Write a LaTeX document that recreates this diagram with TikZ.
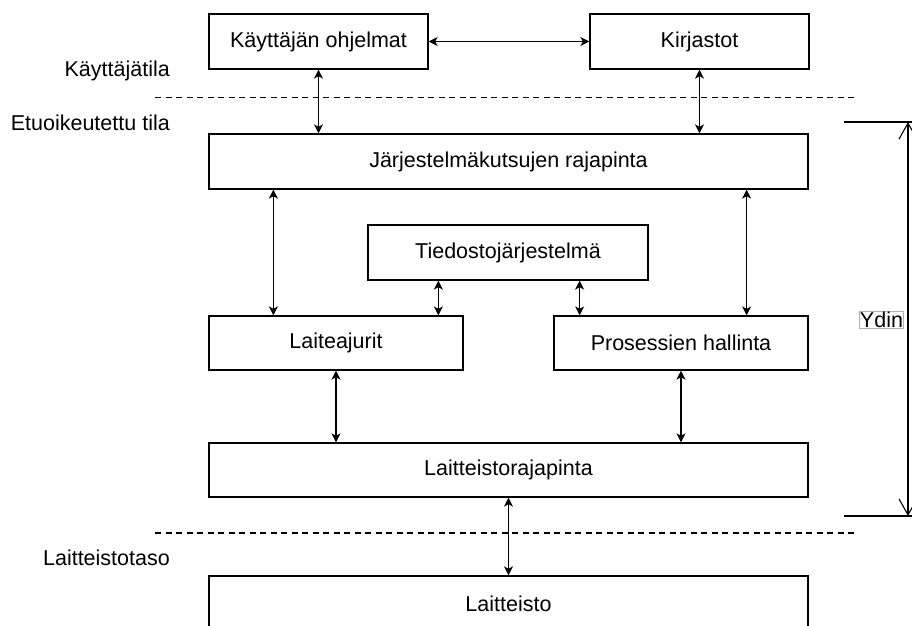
\documentclass[tikz,border=0pt]{standalone}
\usepackage{fontspec}
\setmainfont{Liberation Sans}
\usetikzlibrary{arrows.meta,positioning,calc}

\begin{document}
\begin{tikzpicture}[x=1pt, y=-1pt, >={Stealth[length=9pt,width=9pt,inset=2.5pt]},
  font=\fontsize{21.5}{26}\selectfont,
  box/.style={draw, line width=1.3pt, inner sep=0pt, minimum height=55pt},
  link/.style={<->, line width=1.2pt},
  sep/.style={dash pattern=on 6pt off 4.5pt, line width=1.1pt},
  tag/.style={anchor=east, inner sep=0pt}]
\useasboundingbox (0,0) rectangle (912,625);
\node[box, minimum width=219pt] (prog) at (318.5,41.5) {Käyttäjän ohjelmat};
\node[box, minimum width=219pt] (lib)  at (699.5,41.5) {Kirjastot};
\node[box, minimum width=599pt] (sys)  at (508.5,161.5) {Järjestelmäkutsujen rajapinta};
\node[box, minimum width=280pt] (fs)   at (508,252.5) {Tiedostojärjestelmä};
\node[box, minimum width=254pt, minimum height=54pt] (drv)  at (336,343) {Laiteajurit};
\node[box, minimum width=254pt, minimum height=54pt] (proc) at (681,343) {Prosessien hallinta};
\node[box, minimum width=599pt, minimum height=54pt] (hwif) at (508.5,470) {Laitteistorajapinta};
\node[box, minimum width=599pt] (hw)   at (508.5,603.5) {Laitteisto};
% region labels
\node[tag] (user) at (170,71)  {Käyttäjätila};
\node[tag] (priv) at (170,123) {Etuoikeutettu tila};
\node[tag] (hwl)  at (170,558) {Laitteistotaso};
\draw[sep] (155,97.5) -- (858,97.5);
\draw[sep] (155,533) -- (858,533);
% connectors
\coordinate (sl) at ([xshift=65pt]sys.south west);
\coordinate (sr) at ([xshift=-62pt]sys.south east);
\coordinate (fl) at ([xshift=71pt]fs.south west);
\coordinate (fr) at ([xshift=-69pt]fs.south east);
\draw[link] (prog) -- (lib);
\draw[link] (prog.south) -- (prog |- sys.north);
\draw[link] (lib.south) -- (lib |- sys.north);
\draw[link] (sl) -- (sl |- drv.north);
\draw[link] (sr) -- (sr |- proc.north);
\draw[link] (fl) -- (fl |- drv.north);
\draw[link] (fr) -- (fr |- proc.north);
\draw[link] (drv.south) -- (drv |- hwif.north);
\draw[link] (proc.south) -- (proc |- hwif.north);
\draw[link] (hwif) -- (hw);
% kernel span
\coordinate (ktop) at (908,122);
\coordinate (kbot) at (908,516);
\draw[line width=1.3pt] (844,122) -- (912,122) (844,516) -- (912,516);
\draw[{Straight Barb[length=16pt,width=18pt]}-{Straight Barb[length=16pt,width=18pt]}, line width=1.1pt] (ktop) -- (kbot);
\node[draw=black!30, fill=white, inner sep=0.5pt, line width=0.6pt] (core) at (881.5,320) {Ydin};
\end{tikzpicture}
\end{document}
